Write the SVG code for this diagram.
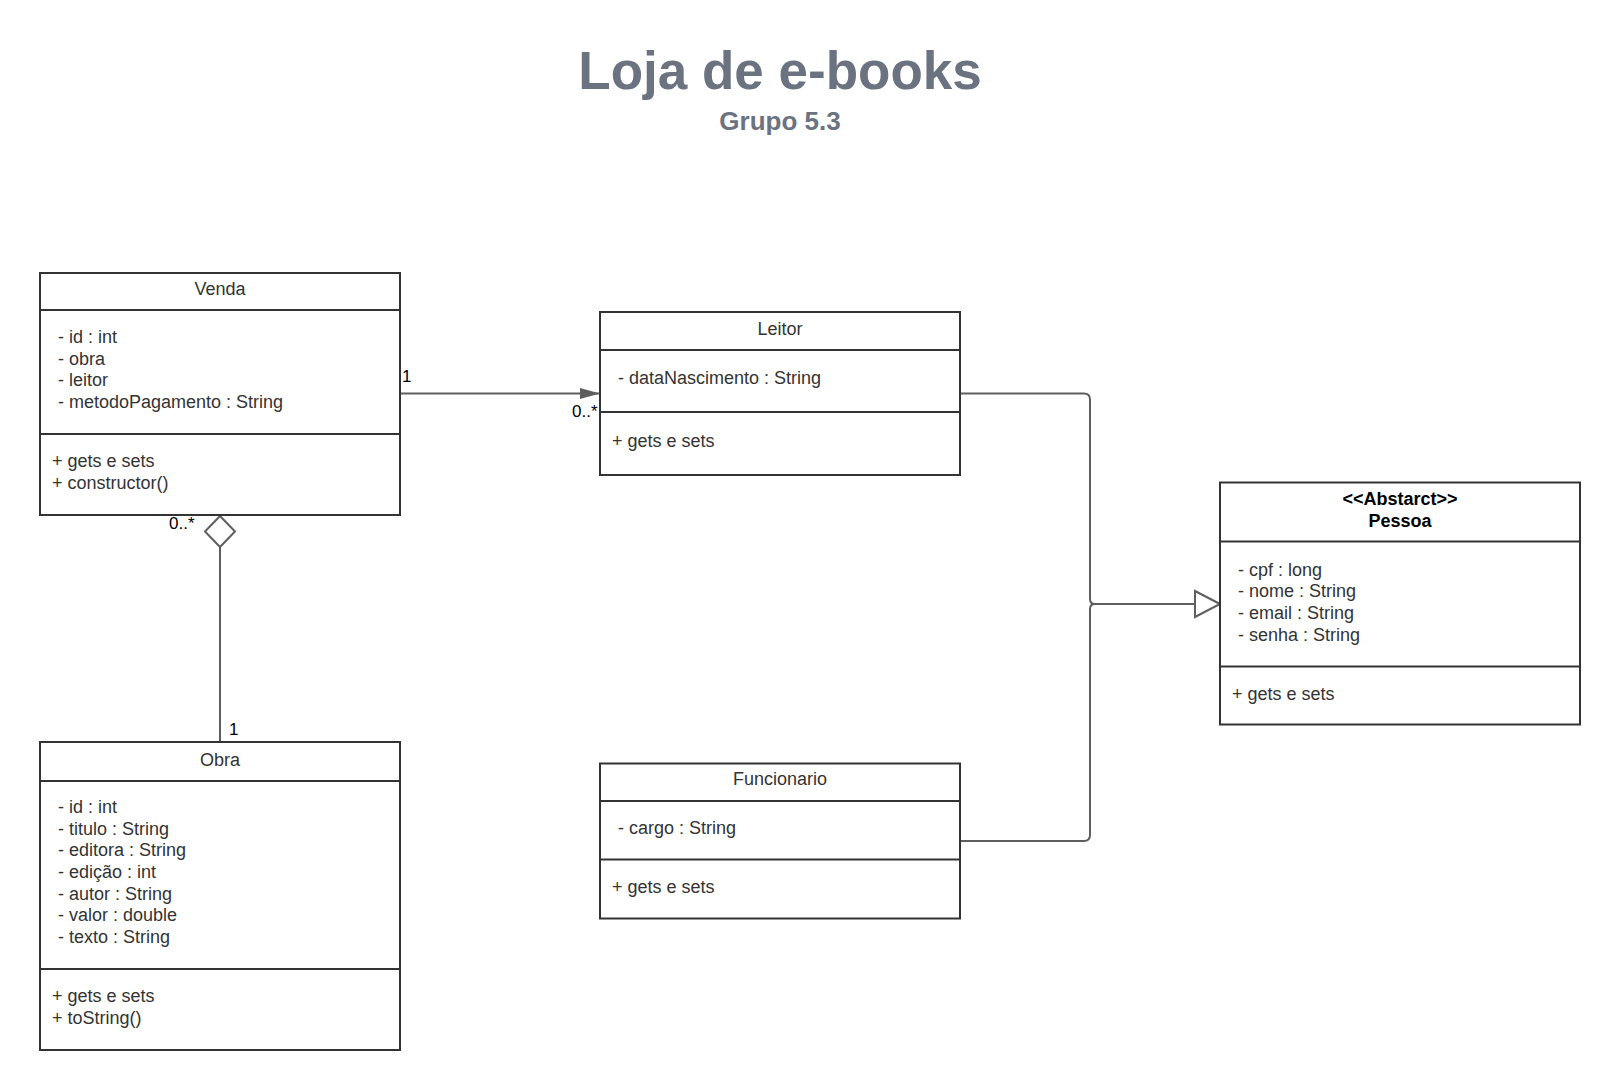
<svg xmlns="http://www.w3.org/2000/svg" width="1620" height="1090" viewBox="0 0 1620 1090">
<style>
  .box { fill: #ffffff; stroke: #333333; stroke-width: 2; }
  .sep { stroke: #333333; stroke-width: 2; }
  .t { font-family: "Liberation Sans", Arial, sans-serif; font-size: 18px; fill: #333333; }
  .c { text-anchor: middle; }
  .b { font-weight: bold; fill: #000000; }
  .lbl { font-family: "Liberation Sans", Arial, sans-serif; font-size: 17px; fill: #000000; }
  .conn { fill: none; stroke: #5e5e5e; stroke-width: 2; }
  .title { font-family: "Liberation Sans", Arial, sans-serif; font-weight: bold; fill: #6b7280; text-anchor: middle; }
</style>
<defs>
  <marker id="filled" viewBox="0 0 20 12" refX="20" refY="6" markerWidth="20" markerHeight="12" markerUnits="userSpaceOnUse" orient="auto">
    <path d="M0,0.5 L20,6 L0,11.5 Z" fill="#5e5e5e"/>
  </marker>
</defs>
<rect width="1620" height="1090" fill="#ffffff"/>

<g id="title">
  <text class="title" x="780" y="89" font-size="53">Loja de e-books</text>
  <text class="title" x="780" y="130" font-size="26">Grupo 5.3</text>
</g>

<g id="connectors">
  <path class="conn" d="M400,393.5 H600" marker-end="url(#filled)"/>
  <text class="lbl" x="402" y="382">1</text>
  <text class="lbl" x="572" y="417">0..*</text>

  <path class="conn" d="M220,547 V742"/>
  <path class="conn" d="M220,516 L235,531.5 L220,547 L205,531.5 Z" style="fill:#ffffff"/>
  <text class="lbl" x="169" y="529">0..*</text>
  <text class="lbl" x="229" y="735">1</text>

  <path class="conn" d="M960,393.5 H1084 Q1090,393.5 1090,399.5 V599 Q1090,604 1095,604"/>
  <path class="conn" d="M960,841 H1084 Q1090,841 1090,835 V609 Q1090,604 1095,604 H1195"/>
  <path class="conn" d="M1220,604 L1195,591 L1195,617 Z" style="fill:#ffffff"/>
</g>

<g id="venda">
  <rect class="box" x="40" y="273" width="360" height="242"/>
  <line class="sep" x1="40" y1="310" x2="400" y2="310"/>
  <line class="sep" x1="40" y1="434" x2="400" y2="434"/>
  <text class="t c" x="220" y="295">Venda</text>
  <text class="t" x="58" y="343">- id : int</text>
  <text class="t" x="58" y="364.5">- obra</text>
  <text class="t" x="58" y="386">- leitor</text>
  <text class="t" x="58" y="407.5">- metodoPagamento : String</text>
  <text class="t" x="52" y="467">+ gets e sets</text>
  <text class="t" x="52" y="488.5">+ constructor()</text>
</g>

<g id="leitor">
  <rect class="box" x="600" y="312" width="360" height="163"/>
  <line class="sep" x1="600" y1="350" x2="960" y2="350"/>
  <line class="sep" x1="600" y1="412" x2="960" y2="412"/>
  <text class="t c" x="780" y="335">Leitor</text>
  <text class="t" x="618" y="384">- dataNascimento : String</text>
  <text class="t" x="612" y="447">+ gets e sets</text>
</g>

<g id="funcionario">
  <rect class="box" x="600" y="763.5" width="360" height="155"/>
  <line class="sep" x1="600" y1="801" x2="960" y2="801"/>
  <line class="sep" x1="600" y1="859.5" x2="960" y2="859.5"/>
  <text class="t c" x="780" y="785">Funcionario</text>
  <text class="t" x="618" y="834">- cargo : String</text>
  <text class="t" x="612" y="892.5">+ gets e sets</text>
</g>

<g id="pessoa">
  <rect class="box" x="1220" y="482.5" width="360" height="242"/>
  <line class="sep" x1="1220" y1="541.5" x2="1580" y2="541.5"/>
  <line class="sep" x1="1220" y1="666.5" x2="1580" y2="666.5"/>
  <text class="t c b" x="1400" y="505">&lt;&lt;Abstarct&gt;&gt;</text>
  <text class="t c b" x="1400" y="527">Pessoa</text>
  <text class="t" x="1238" y="575.5">- cpf : long</text>
  <text class="t" x="1238" y="597">- nome : String</text>
  <text class="t" x="1238" y="619">- email : String</text>
  <text class="t" x="1238" y="640.5">- senha : String</text>
  <text class="t" x="1232" y="699.5">+ gets e sets</text>
</g>

<g id="obra">
  <rect class="box" x="40" y="742" width="360" height="308"/>
  <line class="sep" x1="40" y1="781" x2="400" y2="781"/>
  <line class="sep" x1="40" y1="969" x2="400" y2="969"/>
  <text class="t c" x="220" y="765.5">Obra</text>
  <text class="t" x="58" y="813">- id : int</text>
  <text class="t" x="58" y="834.5">- titulo : String</text>
  <text class="t" x="58" y="856">- editora : String</text>
  <text class="t" x="58" y="878">- edição : int</text>
  <text class="t" x="58" y="899.5">- autor : String</text>
  <text class="t" x="58" y="921">- valor : double</text>
  <text class="t" x="58" y="943">- texto : String</text>
  <text class="t" x="52" y="1002">+ gets e sets</text>
  <text class="t" x="52" y="1024">+ toString()</text>
</g>
</svg>
